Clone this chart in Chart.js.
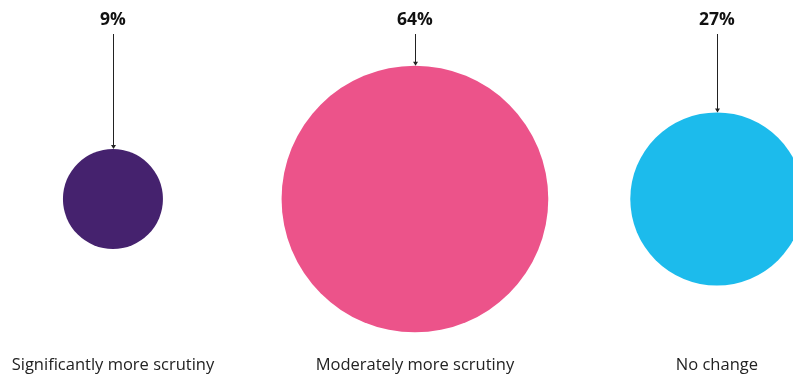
<!DOCTYPE html>
<html>
<head>
<meta charset="utf-8">
<script src="https://cdn.jsdelivr.net/npm/chart.js@4/dist/chart.umd.min.js"></script>
<style>
html,body{margin:0;padding:0;background:#fff;}
canvas{display:block;}
</style>
</head>
<body>
<canvas id="c" width="793" height="376"></canvas>
<script>
const categories = ["Significantly more scrutiny", "Moderately more scrutiny", "No change"];
const values = [9, 64, 27];
const valueLabels = ["9%", "64%", "27%"];
const colors = ["#45226E", "#EC538A", "#1CBBEC"];

const RADIUS_PER_SQRT = 16.67;

const labelPlugin = {
  id: 'labels',
  afterDatasetsDraw(chart) {
    const ctx = chart.ctx;
    const meta = chart.getDatasetMeta(0);
    ctx.save();
    meta.data.forEach((el, i) => {
      const x = Math.round(el.x) + 0.5;
      const r = el.options.radius;
      const top = el.y - r;
      // value label
      ctx.fillStyle = '#111';
      ctx.font = 'bold 17.5px "Open Sans", "Noto Sans", sans-serif';
      ctx.textAlign = 'center';
      ctx.textBaseline = 'middle';
      ctx.fillText(valueLabels[i], el.x, 20);
      // leader line
      ctx.strokeStyle = '#222';
      ctx.lineWidth = 1;
      ctx.beginPath();
      ctx.moveTo(x, 34);
      ctx.lineTo(x, top - 1);
      ctx.stroke();
      // arrowhead
      ctx.fillStyle = '#222';
      ctx.beginPath();
      ctx.moveTo(x - 2.5, top - 4);
      ctx.lineTo(x + 2.5, top - 4);
      ctx.lineTo(x, top);
      ctx.closePath();
      ctx.fill();
      // category label
      ctx.fillStyle = '#222';
      ctx.font = '16.5px "Open Sans", "Noto Sans", sans-serif';
      ctx.fillText(categories[i], el.x, 365);
    });
    ctx.restore();
  }
};

new Chart(document.getElementById('c'), {
  type: 'bubble',
  data: {
    datasets: [{
      data: values.map((v, i) => ({ x: i, y: 0, v: v })),
      backgroundColor: colors,
      borderWidth: 0,
      radius: (c) => RADIUS_PER_SQRT * Math.sqrt(c.raw ? c.raw.v : 0),
      hoverRadius: 0,
      clip: false
    }]
  },
  options: {
    responsive: false,
    animation: false,
    events: [],
    layout: { autoPadding: false, padding: { top: 22, bottom: 0, left: 0, right: 0 } },
    plugins: { legend: { display: false }, tooltip: { enabled: false } },
    scales: {
      x: { type: 'linear', display: false, min: -0.374, max: 2.252 },
      y: { type: 'linear', display: false, min: -1, max: 1 }
    }
  },
  plugins: [labelPlugin]
});
</script>
</body>
</html>
